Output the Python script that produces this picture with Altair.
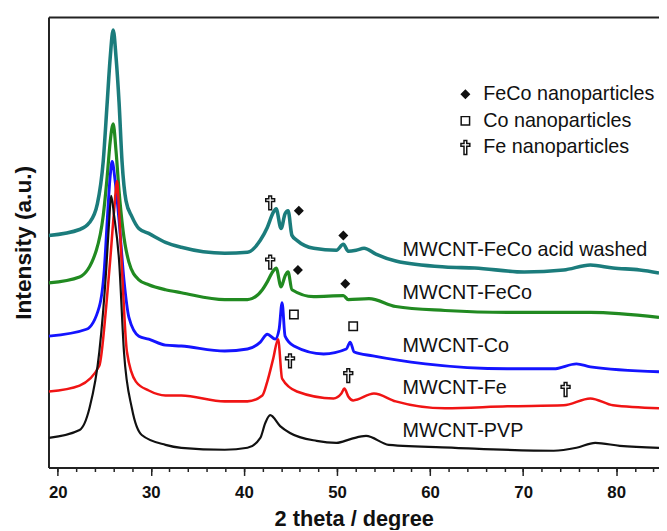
import altair as alt
import pandas as pd

# ---- series (2theta in degrees, intensity in arbitrary offset units) ----
series_names = ["MWCNT-FeCo acid washed", "MWCNT-FeCo", "MWCNT-Co", "MWCNT-Fe", "MWCNT-PVP"]
series_colors = ["#1b7c7c", "#218a21", "#1414ff", "#f01414", "#111111"]
series_widths = [3.6, 2.2, 2.2, 2.2, 2.2]

teal_x = [19.04, 22.34, 23.40, 24.25, 24.88, 25.31, 25.63, 25.95, 26.26, 26.58, 26.90, 27.33, 27.96,
          28.71, 29.77, 31.57, 33.27, 37.94, 40.38, 41.76, 42.51, 43.14, 43.46, 43.99, 44.42, 44.74,
          45.16, 45.69, 47.50, 49.94, 50.68, 51.21, 52.06, 52.91, 54.18, 56.31, 61.61, 64.80, 70.11,
          74.35, 77.22, 79.66, 82.53, 84.6]
teal_y = [235, 241, 248, 267, 310, 370, 415, 443, 415, 370, 310, 270, 254,
          242, 237, 228, 223, 217, 218, 230, 243, 258, 262, 242, 257, 260,
          235, 230, 222, 220, 226, 219, 220, 222, 216, 209, 203, 202, 198,
          200, 205, 202, 200, 197]

green_x = [19.04, 22.34, 24.14, 24.88, 25.31, 25.63, 25.95, 26.26, 26.58, 27.01, 27.64, 28.71, 29.77,
           31.57, 33.27, 37.94, 40.38, 41.98, 42.51, 43.14, 43.46, 43.99, 44.42, 44.74, 45.16, 47.50,
           50.68, 51.21, 53.44, 56.31, 61.61, 68.30, 77.22, 84.6]
green_y = [187, 193, 220, 255, 295, 330, 348, 320, 280, 240, 208, 190, 185,
           180, 177, 170, 170, 180, 188, 199, 202, 183, 194, 198, 180, 173,
           174, 170, 171, 163, 159, 157, 157, 152]

blue_x = [19.04, 23.08, 24.46, 24.99, 25.31, 25.63, 25.84, 26.16, 26.58, 27.11, 27.64, 28.71, 29.77,
          31.57, 33.27, 37.94, 40.38, 41.76, 42.51, 43.36, 43.78, 44.10, 44.42, 45.37, 48.56, 51.00,
          51.42, 51.85, 53.86, 59.49, 68.30, 73.29, 75.73, 77.22, 84.6]
blue_y = [133, 140, 163, 200, 250, 295, 310, 290, 250, 190, 152, 133, 130,
          124, 123, 118, 120, 127, 135, 130, 140, 167, 133, 123, 115, 120,
          127, 117, 113, 105, 100, 100, 105, 102, 97]

red_x = [19.04, 22.34, 24.46, 25.20, 25.63, 26.05, 26.37, 26.58, 26.90, 27.43, 28.39, 29.77, 31.57,
         33.27, 37.94, 40.38, 41.98, 42.51, 43.14, 43.67, 44.10, 45.69, 49.62, 50.47, 50.79, 51.21,
         51.74, 53.97, 56.31, 61.61, 68.30, 74.35, 77.22, 79.66, 84.6]
red_y = [77, 83, 103, 163, 210, 260, 290, 260, 200, 117, 87, 78, 73,
         73, 67, 67, 73, 87, 110, 130, 90, 77, 70, 75, 80, 72,
         68, 75, 67, 60, 62, 63, 70, 63, 60]

black_x = [19.04, 22.34, 23.40, 24.46, 25.20, 25.52, 25.73, 26.05, 26.58, 27.11, 27.96, 29.02, 31.57,
           33.27, 37.94, 40.38, 41.76, 42.29, 42.82, 43.89, 44.95, 47.81, 49.94, 51.53, 53.12, 55.56,
           62.68, 73.29, 75.73, 77.75, 80.40, 84.6]
black_y = [30, 38, 60, 117, 200, 250, 275, 255, 210, 117, 60, 33, 23,
           20, 18, 20, 30, 45, 53, 42, 35, 27, 25, 29, 32, 23,
           20, 17, 20, 25, 22, 20]

# ---- curve labels ----
label_x = [57.05, 57.05, 57.05, 57.05, 57.05]
label_y = [220, 177, 123, 80, 37]

# ---- phase markers ----
phase_names = ["FeCo nanoparticles", "Co nanoparticles", "Fe nanoparticles"]
marker_phase = ["FeCo nanoparticles", "FeCo nanoparticles", "FeCo nanoparticles", "FeCo nanoparticles",
                "Co nanoparticles", "Co nanoparticles",
                "Fe nanoparticles", "Fe nanoparticles", "Fe nanoparticles", "Fe nanoparticles",
                "Fe nanoparticles"]
marker_x = [45.90, 50.68, 45.80, 50.89, 45.37, 51.74, 42.82, 42.82, 44.95, 51.21, 74.56]
marker_y = [260, 235, 200, 186, 155, 143, 268, 208, 108, 93, 79]

# x axis ticks
major_ticks = [20, 30, 40, 50, 60, 70, 80]
minor_ticks = list(range(20, 85, 2))

# ---- build tables ----
xs = [teal_x, green_x, blue_x, red_x, black_x]
ys = [teal_y, green_y, blue_y, red_y, black_y]
curves = pd.concat(
    [pd.DataFrame({"theta": x, "intensity": y, "series": n, "order": range(len(x))})
     for n, x, y in zip(series_names, xs, ys)],
    ignore_index=True,
)
labels_df = pd.DataFrame({"theta": label_x, "intensity": label_y, "text": series_names})
markers_df = pd.DataFrame({"theta": marker_x, "intensity": marker_y, "phase": marker_phase})

FONT = "Liberation Sans"
xscale = alt.Scale(domain=[19.0, 84.6], nice=False, zero=False)
yscale = alt.Scale(domain=[0, 456], nice=False, zero=False)
yaxis = alt.Axis(ticks=False, labels=False, grid=False, domain=True, domainWidth=2,
                 domainColor="#222222", title="Intensity (a.u.)", titleFont=FONT,
                 titleFontSize=23, titleFontWeight="bold", titleColor="#111111", titlePadding=13)

axis_minor = alt.Axis(values=minor_ticks, tickSize=4, tickWidth=1.5, tickColor="#222222",
                      domainWidth=2, domainColor="#222222", grid=False,
                      labelExpr="datum.value % 10 == 0 ? datum.label : ''",
                      labelOverlap=False, labelFlush=False, labelFont=FONT, labelFontSize=17,
                      labelFontWeight="bold", labelColor="#111111", labelPadding=13,
                      title="2 theta / degree", titleFont=FONT, titleFontSize=22,
                      titleFontWeight="bold", titleColor="#111111", titlePadding=9,
                      orient="bottom")
axis_major = alt.Axis(values=major_ticks, tickSize=8, tickWidth=1.5, tickColor="#222222",
                      labels=False, domain=False, grid=False, title="", orient="bottom")
axis_top = alt.Axis(ticks=False, labels=False, domain=True, domainWidth=2, domainColor="#222222",
                    grid=False, title="", orient="top")

lines = alt.Chart(curves).mark_line(interpolate="monotone", clip=True).encode(
    x=alt.X("theta:Q", scale=xscale, axis=axis_minor),
    y=alt.Y("intensity:Q", scale=yscale, axis=yaxis),
    color=alt.Color("series:N", scale=alt.Scale(domain=series_names, range=series_colors), legend=None),
    size=alt.Size("series:N", scale=alt.Scale(domain=series_names, range=series_widths), legend=None),
    order="order:Q",
)

texts = alt.Chart(labels_df).mark_text(align="left", baseline="middle", font=FONT,
                                       fontSize=20, color="#111111").encode(
    x=alt.X("theta:Q", scale=xscale, axis=axis_major),
    y=alt.Y("intensity:Q", scale=yscale, axis=yaxis),
    text="text:N",
)

diamond = "M0,-0.8L0.8,0L0,0.8L-0.8,0Z"
square = "M-0.85,-0.85L0.85,-0.85L0.85,0.85L-0.85,0.85Z"
cross = ("M-0.28,-1.4L0.28,-1.4L0.28,-0.8L0.9,-0.8L0.9,-0.25L0.28,-0.25L0.28,1.4"
         "L-0.28,1.4L-0.28,-0.25L-0.9,-0.25L-0.9,-0.8L-0.28,-0.8Z")

legend = alt.Legend(title=None, orient="none", legendX=412, legendY=68, padding=0,
                    labelFont=FONT, labelFontSize=20, labelColor="#111111", labelOffset=8,
                    labelLimit=0, symbolSize=100, symbolStrokeColor="#111111",
                    symbolStrokeWidth=1.5, rowPadding=7)

points = alt.Chart(markers_df).mark_point(filled=False, size=100, strokeWidth=1.5,
                                          opacity=1).encode(
    x=alt.X("theta:Q", scale=xscale, axis=axis_top),
    y=alt.Y("intensity:Q", scale=yscale, axis=yaxis),
    shape=alt.Shape("phase:N", scale=alt.Scale(domain=phase_names, range=[diamond, square, cross]),
                    legend=legend),
    fill=alt.Fill("phase:N", scale=alt.Scale(domain=phase_names, range=["#111111", "#ffffff", "#ffffff"]),
                  legend=legend),
    stroke=alt.Stroke("phase:N", scale=alt.Scale(domain=phase_names, range=["#111111", "#111111", "#111111"]),
                      legend=legend),
)

chart = alt.layer(lines, texts, points).resolve_axis(x="independent").properties(
    width=618, height=456,
    padding={"left": 41, "top": 6, "right": 0, "bottom": 60},
    autosize=alt.AutoSizeParams(type="none"),
).configure_view(strokeWidth=0).configure_axis(grid=False)

chart.save("out.html", embed_options={"renderer": "svg", "actions": False})
